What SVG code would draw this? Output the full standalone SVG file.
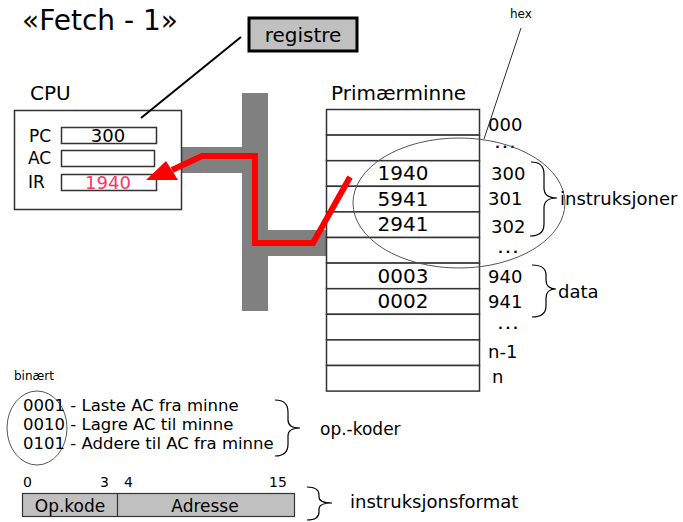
<svg xmlns="http://www.w3.org/2000/svg" width="683" height="522" viewBox="0 0 683 522">
<style>
text{font-family:"DejaVu Sans","Liberation Sans",sans-serif;fill:#000}
.box{fill:#fff;stroke:#333;stroke-width:1.5}
.reg{fill:#fff;stroke:#333;stroke-width:1.5}
.row{fill:#fff;stroke:#333;stroke-width:1.5}
.brace{fill:none;stroke:#000;stroke-width:1.2}
.mid{text-anchor:middle}
.bus{fill:#808080}
.dots{font-size:13px;font-weight:bold;letter-spacing:2.5px}
</style>
<rect width="683" height="522" fill="#fff"/>
<text x="22" y="30" font-size="28">«Fetch - 1»</text>

<g id="registre">
<rect x="249" y="18" width="108" height="33" fill="#c0c0c0" stroke="#000" stroke-width="3"/>
<text x="303" y="42" font-size="20" class="mid">registre</text>
</g>

<g id="bus">
<rect class="bus" x="242" y="93" width="26" height="218"/>
<rect class="bus" x="181" y="147" width="62" height="26"/>
<rect class="bus" x="267" y="230" width="59" height="26"/>
</g>

<g id="cpu">
<text x="30" y="100" font-size="20">CPU</text>
<rect class="box" x="14.5" y="110.5" width="167" height="99"/>
<text x="29" y="142" font-size="17">PC</text>
<rect class="reg" x="61.5" y="127.5" width="95" height="16"/>
<text x="108" y="142" font-size="18" class="mid">300</text>
<text x="28" y="164" font-size="17">AC</text>
<rect class="reg" x="61.5" y="150.5" width="93" height="16"/>
<text x="28" y="188" font-size="17">IR</text>
<rect class="reg" x="61.5" y="174.5" width="95" height="16"/>
<text x="108" y="189" font-size="18" class="mid" style="fill:#ff3366">1940</text>
</g>

<g id="memory">
<text x="331" y="100" font-size="20">Primærminne</text>
<rect class="row" x="326.5" y="109.5" width="153" height="25.6"/>
<rect class="row" x="326.5" y="135.1" width="153" height="25.6"/>
<rect class="row" x="326.5" y="160.7" width="153" height="25.6"/>
<rect class="row" x="326.5" y="186.3" width="153" height="25.6"/>
<rect class="row" x="326.5" y="211.9" width="153" height="25.6"/>
<rect class="row" x="326.5" y="237.5" width="153" height="25.6"/>
<rect class="row" x="326.5" y="263.1" width="153" height="25.6"/>
<rect class="row" x="326.5" y="288.7" width="153" height="25.6"/>
<rect class="row" x="326.5" y="314.3" width="153" height="25.6"/>
<rect class="row" x="326.5" y="339.9" width="153" height="25.6"/>
<rect class="row" x="326.5" y="365.5" width="153" height="25.6"/>
<text x="403" y="180" font-size="20" class="mid">1940</text>
<text x="403" y="206" font-size="20" class="mid">5941</text>
<text x="403" y="231" font-size="20" class="mid">2941</text>
<text x="403" y="283" font-size="20" class="mid">0003</text>
<text x="403" y="308" font-size="20" class="mid">0002</text>
<text x="488" y="131" font-size="18">000</text>
<text x="495" y="148" class="dots">...</text>
<text x="491" y="180" font-size="18">300</text>
<text x="488" y="205" font-size="18">301</text>
<text x="491" y="233" font-size="18">302</text>
<text x="498" y="253" class="dots">...</text>
<text x="488" y="283" font-size="18">940</text>
<text x="488" y="308" font-size="18">941</text>
<text x="498" y="329" class="dots">...</text>
<text x="488" y="358" font-size="18">n-1</text>
<text x="492" y="383" font-size="18">n</text>
</g>

<g id="annotations">
<ellipse cx="459" cy="203" rx="106" ry="65" fill="none" stroke="#555" stroke-width="1"/>
<text x="510" y="18" font-size="12">hex</text>
<line x1="521" y1="28" x2="484" y2="139" stroke="#333" stroke-width="1"/>
<path class="brace" d="M531,162 Q544,162 544,174 L544,188 Q544,198 557,198 Q544,198 544,208 L544,224 Q544,236 530,236"/>
<text x="560" y="205" font-size="18">instruksjoner</text>
<path class="brace" d="M532,265 Q546,265 546,275 L546,280 Q546,289 556,289 Q546,289 546,298 L546,306 Q546,317 532,317"/>
<text x="558" y="298" font-size="18">data</text>
</g>

<g id="opcodes">
<text x="14" y="380" font-size="12">binært</text>
<ellipse cx="37" cy="428" rx="30" ry="37" fill="none" stroke="#555" stroke-width="1"/>
<text x="23" y="411" font-size="16.5">0001 - Laste AC fra minne</text>
<text x="23" y="430" font-size="16.5">0010 - Lagre AC til minne</text>
<text x="23" y="449" font-size="16.5">0101 - Addere til AC fra minne</text>
<path class="brace" d="M275,400 Q288,400 288,412 L288,420 Q288,428 300,428 Q288,428 288,436 L288,444 Q288,456 275,456"/>
<text x="320" y="435" font-size="17">op.-koder</text>
</g>

<g id="format">
<text x="23" y="487" font-size="14">0</text>
<text x="100" y="487" font-size="14">3</text>
<text x="124" y="487" font-size="14">4</text>
<text x="269" y="487" font-size="14">15</text>
<rect x="22.5" y="493.5" width="272" height="23" fill="#c0c0c0" stroke="#333" stroke-width="1.2"/>
<line x1="117.5" y1="493.5" x2="117.5" y2="516.5" stroke="#333" stroke-width="1.2"/>
<text x="70" y="512" font-size="17" class="mid">Op.kode</text>
<text x="205" y="512" font-size="17" class="mid">Adresse</text>
<path class="brace" d="M307,487 Q319,487 319,495 L319,497 Q319,503 332,503 Q319,503 319,509 L319,512 Q319,520 307,520"/>
<text x="350" y="508" font-size="18">instruksjonsformat</text>
</g>

<g id="connectors">
<line x1="241" y1="37" x2="141" y2="118" stroke="#000" stroke-width="2"/>
<polyline points="172,170 202,156 255,156 255,243 313,243 350,177" fill="none" stroke="#f00" stroke-width="6"/>
<polygon points="146,180 166,161 178,180" fill="#f00"/>
</g>
</svg>
